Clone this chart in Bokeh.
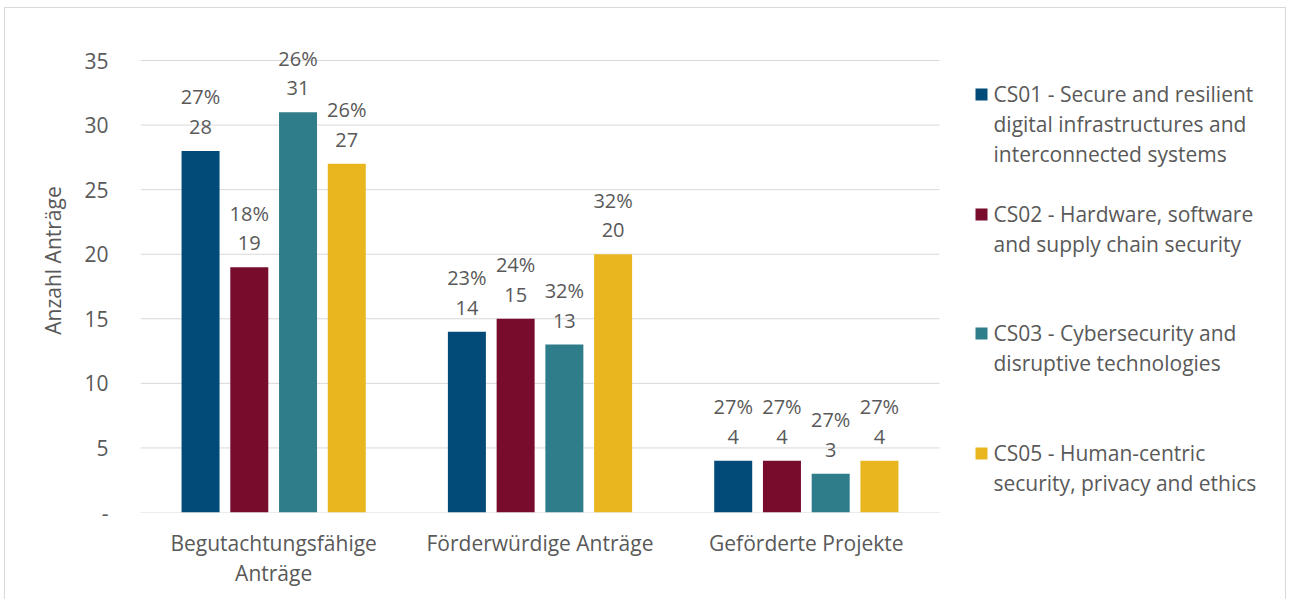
from bokeh.plotting import figure
from bokeh.models import Range1d, FixedTicker
from bokeh.core.properties import value
from bokeh.embed import file_html
from bokeh.resources import INLINE

# ---- data ----
categories = ["Begutachtungsfähige\nAnträge", "Förderwürdige Anträge", "Geförderte Projekte"]
series_names = ["CS01", "CS02", "CS03", "CS05"]
legend_lines = [
    ["CS01 - Secure and resilient", "digital infrastructures and", "interconnected systems"],
    ["CS02 - Hardware, software", "and supply chain security"],
    ["CS03 - Cybersecurity and", "disruptive technologies"],
    ["CS05 - Human-centric", "security, privacy and ethics"],
]
cs01 = [28, 14, 4]
cs02 = [19, 15, 4]
cs03 = [31, 13, 3]
cs05 = [27, 20, 4]
cs01_pct = ["27%", "23%", "27%"]
cs02_pct = ["18%", "24%", "27%"]
cs03_pct = ["26%", "32%", "27%"]
cs05_pct = ["26%", "32%", "27%"]
y_ticks = [0, 5, 10, 15, 20, 25, 30, 35]
y_title = "Anzahl Anträge"

values = [cs01, cs02, cs03, cs05]
pcts = [cs01_pct, cs02_pct, cs03_pct, cs05_pct]
colors = ["#024B79", "#780C2D", "#2F7D8A", "#EAB620"]

# ---- layout constants (page pixels) ----
FONT = value("Open Sans")
TXT = "#595959"
FS = "21px"
FS_DATA = "20px"
CANVAS_LEFT = 5
CANVAS_TOP = 8
FRAME_LEFT = 140
FRAME_BOTTOM = 512
PX_PER_CAT = 266.33
PX_PER_Y = 12.914
W, H = 1282, 592

def dx(page_x):
    return (page_x - FRAME_LEFT) / PX_PER_CAT

def dy(page_y):
    return (FRAME_BOTTOM - page_y) / PX_PER_Y

x_end = (CANVAS_LEFT + W - FRAME_LEFT) / PX_PER_CAT
y_end = (FRAME_BOTTOM - CANVAS_TOP) / PX_PER_Y

p = figure(width=W, height=H, output_backend="svg", toolbar_location=None,
           x_range=Range1d(0, x_end), y_range=Range1d(0, y_end),
           min_border_left=FRAME_LEFT - CANVAS_LEFT, min_border_right=0,
           min_border_top=0, min_border_bottom=CANVAS_TOP + H - FRAME_BOTTOM)
p.styles = {"margin-left": "4px", "margin-top": "7px",
            "border-top": "1px solid #d9d9d9", "border-left": "1px solid #d9d9d9",
            "border-right": "1px solid #d9d9d9"}
p.outline_line_color = None
p.xgrid.visible = False
p.ygrid.visible = False

# gridlines (only across the category area)
ncat = len(categories)
p.segment(x0=[0] * len(y_ticks), x1=[ncat] * len(y_ticks), y0=y_ticks, y1=y_ticks,
          line_color="#d9d9d9", line_width=1)

# bars
bar_w = 38 / PX_PER_CAT
offsets = [-0.2745, -0.0915, 0.0915, 0.2745]
for vals, pc, col, off in zip(values, pcts, colors, offsets):
    xs = [i + 0.5 + off for i in range(ncat)]
    p.vbar(x=xs, top=vals, width=bar_w, bottom=0, fill_color=col, line_color=None)
    p.text(x=xs, y=vals, text=[str(v) for v in vals], y_offset=-24,
           text_align="center", text_baseline="middle", text_font=FONT,
           text_font_size=FS_DATA, text_color=TXT)
    p.text(x=xs, y=vals, text=pc, y_offset=-54,
           text_align="center", text_baseline="middle", text_font=FONT,
           text_font_size=FS_DATA, text_color=TXT)

# legend
leg_first_line = [93, 213, 332, 452]
for lines, col, top_y in zip(legend_lines, colors, leg_first_line):
    p.rect(x=[dx(981)], y=[dy(top_y + 1)], width=12, height=12,
           width_units="screen", height_units="screen", fill_color=col, line_color=None)
    ys = [dy(top_y + 30 * k) for k in range(len(lines))]
    p.text(x=[dx(993)] * len(lines), y=ys, text=lines, text_align="left",
           text_baseline="middle", text_font=FONT, text_font_size=FS, text_color=TXT)

# axes
p.yaxis.ticker = FixedTicker(ticks=y_ticks)
p.yaxis.major_label_overrides = {0: "-"}
p.yaxis.axis_line_color = None
p.yaxis.major_tick_line_color = None
p.yaxis.minor_tick_line_color = None
p.yaxis.major_tick_out = 0
p.yaxis.major_tick_in = 0
p.yaxis.major_label_standoff = 32
p.yaxis.major_label_text_font = "Open Sans"
p.yaxis.major_label_text_font_size = FS
p.yaxis.major_label_text_color = TXT
p.yaxis.axis_label = y_title
p.yaxis.axis_label_text_font = "Open Sans"
p.yaxis.axis_label_text_font_size = FS
p.yaxis.axis_label_text_font_style = "normal"
p.yaxis.axis_label_text_color = TXT
p.yaxis.axis_label_standoff = 14

p.xaxis.ticker = FixedTicker(ticks=[i + 0.5 for i in range(ncat)])
p.xaxis.major_label_overrides = {i + 0.5: c for i, c in enumerate(categories)}
p.xaxis.axis_line_color = None
p.xaxis.major_tick_line_color = None
p.xaxis.minor_tick_line_color = None
p.xaxis.major_tick_out = 0
p.xaxis.major_tick_in = 0
p.xaxis.major_label_standoff = 16
p.xaxis.major_label_text_font = "Open Sans"
p.xaxis.major_label_text_font_size = FS
p.xaxis.major_label_text_color = TXT
p.xaxis.major_label_text_line_height = 1.1

open("out.html", "w").write(file_html(p, INLINE))
